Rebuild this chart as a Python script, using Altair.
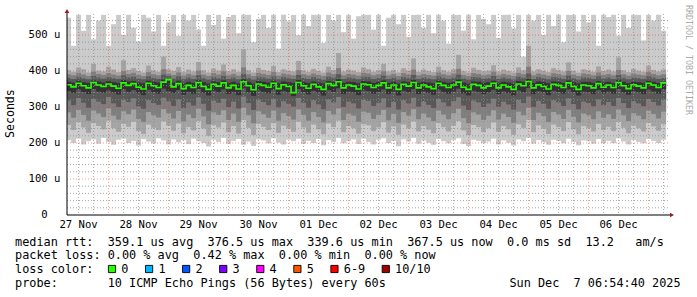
import altair as alt
import pandas as pd

# ---------------- data (values in microseconds, one value per 2 hours) ----------------
p10 = [
    548, 470, 556, 512, 556, 488, 540, 556, 470, 530, 556, 500,
    556, 520, 482, 556, 548, 510, 556, 470, 535, 556, 498, 556,
    540, 556, 515, 470, 556, 528, 556, 490, 550, 556, 505, 556,
    556, 480, 545, 556, 520, 556, 462, 556, 538, 556, 500, 556,
    525, 556, 556, 478, 556, 540, 556, 508, 556, 490, 552, 556,
    556, 515, 556, 470, 548, 556, 530, 556, 495, 556, 556, 520,
    556, 505, 556, 540, 476, 556, 556, 512, 556, 488, 556, 545,
    530, 556, 492, 556, 556, 518, 556, 440, 556, 540, 556, 500,
    556, 525, 556, 480, 556, 556, 510, 556, 535, 556, 470, 556,
    550, 556, 498, 556, 520, 556, 556, 485, 556, 540, 556, 512,
]
p9 = [
    402, 398, 410, 405, 396, 420, 401, 399, 412, 404, 397, 430,
    403, 408, 400, 396, 415, 402, 398, 440, 405, 400, 411, 397,
    404, 399, 425, 402, 396, 407, 401, 418, 399, 405, 398, 460,
    402, 396, 409, 403, 400, 414, 397, 405, 401, 399, 428, 402,
    398, 406, 400, 396, 412, 403, 450, 399, 404, 401, 397, 410,
    405, 398, 402, 420, 399, 403, 396, 408, 401, 435, 398, 404,
    400, 397, 412, 402, 398, 405, 445, 400, 396, 409, 403, 399,
    401, 416, 398, 404, 400, 396, 410, 402, 470, 399, 405, 401,
    397, 408, 403, 399, 424, 401, 396, 405, 402, 398, 413, 400,
    404, 399, 438, 402, 397, 406, 401, 398, 415, 403, 399, 404,
]
p8 = [
    391, 388, 395, 390, 386, 398, 392, 389, 394, 390, 387, 400,
    392, 395, 389, 386, 397, 391, 388, 405, 393, 389, 396, 387,
    392, 388, 401, 390, 386, 394, 390, 399, 388, 392, 387, 410,
    391, 386, 395, 392, 389, 397, 387, 393, 390, 388, 402, 391,
    388, 393, 389, 386, 396, 392, 408, 388, 392, 390, 387, 395,
    393, 388, 391, 399, 388, 392, 386, 394, 390, 404, 388, 392,
    389, 387, 396, 391, 388, 393, 406, 389, 386, 394, 392, 388,
    390, 398, 388, 392, 389, 386, 395, 391, 412, 388, 393, 390,
    387, 394, 392, 388, 400, 390, 386, 393, 391, 388, 396, 389,
    392, 388, 403, 391, 387, 393, 390, 388, 397, 392, 388, 391,
]
p7 = [
    381, 378, 384, 380, 377, 386, 382, 379, 383, 380, 378, 388,
    382, 384, 379, 377, 385, 381, 378, 390, 386, 379, 385, 377,
    382, 378, 388, 380, 376, 383, 380, 386, 378, 382, 377, 392,
    381, 376, 384, 382, 379, 385, 377, 383, 380, 378, 389, 381,
    378, 383, 379, 376, 384, 382, 391, 378, 382, 380, 377, 384,
    383, 378, 381, 387, 378, 382, 376, 383, 380, 389, 378, 382,
    379, 377, 385, 381, 378, 382, 390, 379, 376, 383, 382, 378,
    380, 386, 378, 382, 379, 376, 384, 381, 393, 378, 383, 380,
    377, 383, 382, 378, 387, 380, 376, 382, 381, 378, 385, 379,
    382, 378, 389, 381, 377, 382, 380, 378, 385, 382, 378, 381,
]
p6 = [
    370, 368, 373, 369, 367, 374, 371, 368, 372, 369, 367, 375,
    371, 372, 368, 366, 373, 370, 368, 376, 378, 368, 373, 366,
    370, 367, 375, 369, 365, 371, 369, 374, 367, 370, 366, 377,
    370, 365, 372, 370, 368, 373, 366, 371, 369, 367, 375, 370,
    367, 371, 368, 365, 372, 370, 377, 367, 370, 369, 366, 372,
    371, 367, 370, 374, 367, 370, 365, 371, 369, 375, 367, 370,
    368, 366, 373, 370, 367, 370, 376, 368, 365, 371, 370, 367,
    369, 373, 367, 370, 368, 365, 372, 370, 378, 367, 371, 369,
    366, 371, 370, 367, 374, 369, 365, 370, 370, 367, 372, 368,
    370, 367, 375, 370, 366, 370, 369, 367, 373, 370, 367, 370,
]
median = [
    362, 356, 366, 359, 353, 368, 361, 357, 364, 358, 352, 367,
    360, 365, 355, 350, 366, 359, 354, 369, 376, 356, 365, 351,
    360, 354, 368, 357, 349, 363, 358, 367, 353, 360, 350, 370,
    359, 348, 364, 360, 355, 366, 351, 362, 357, 340, 368, 359,
    352, 363, 356, 349, 365, 360, 370, 353, 361, 358, 350, 364,
    362, 354, 360, 367, 353, 361, 349, 363, 358, 368, 353, 361,
    356, 351, 366, 360, 354, 361, 369, 355, 349, 363, 360, 353,
    358, 366, 353, 361, 356, 349, 364, 359, 371, 353, 362, 357,
    350, 363, 360, 354, 367, 357, 349, 361, 359, 353, 365, 355,
    361, 354, 368, 359, 351, 362, 358, 353, 366, 361, 354, 367,
]
p5 = [
    344, 339, 348, 342, 336, 350, 343, 340, 346, 341, 335, 349,
    342, 347, 338, 333, 348, 341, 337, 351, 344, 339, 347, 334,
    342, 337, 350, 340, 332, 345, 341, 349, 336, 342, 333, 352,
    341, 331, 346, 342, 338, 348, 334, 344, 340, 330, 350, 341,
    335, 345, 339, 332, 347, 342, 352, 336, 343, 341, 333, 346,
    344, 337, 342, 349, 336, 343, 332, 345, 341, 350, 336, 343,
    339, 334, 348, 342, 337, 343, 351, 338, 332, 345, 342, 336,
    341, 348, 336, 343, 339, 332, 346, 341, 353, 336, 344, 340,
    333, 345, 342, 337, 349, 340, 332, 343, 341, 336, 347, 338,
    343, 337, 350, 341, 334, 344, 341, 336, 348, 343, 337, 349,
]
p4 = [
    318, 305, 325, 312, 298, 322, 315, 308, 328, 310, 300, 320,
    314, 324, 302, 295, 319, 311, 306, 326, 316, 303, 321, 297,
    313, 304, 327, 309, 290, 318, 312, 323, 300, 315, 296, 329,
    311, 292, 320, 314, 305, 322, 299, 316, 309, 301, 325, 312,
    298, 319, 307, 294, 321, 313, 328, 300, 315, 310, 296, 320,
    317, 303, 312, 324, 299, 314, 293, 319, 310, 326, 301, 315,
    306, 297, 322, 313, 302, 316, 327, 304, 292, 318, 313, 300,
    310, 323, 301, 315, 307, 293, 320, 311, 329, 300, 317, 309,
    295, 319, 313, 303, 324, 308, 294, 315, 311, 302, 321, 305,
    314, 303, 325, 311, 297, 316, 310, 302, 322, 314, 304, 320,
]
p3 = [
    285, 270, 292, 278, 262, 290, 282, 272, 296, 276, 265, 288,
    280, 293, 267, 258, 286, 277, 271, 294, 283, 268, 289, 260,
    279, 269, 295, 274, 252, 285, 278, 291, 264, 282, 259, 298,
    277, 255, 288, 280, 270, 290, 262, 283, 275, 265, 293, 278,
    262, 286, 272, 257, 289, 279, 296, 264, 282, 276, 259, 287,
    284, 267, 278, 292, 263, 281, 256, 286, 276, 294, 266, 282,
    271, 261, 290, 279, 266, 283, 295, 269, 255, 285, 279, 264,
    276, 291, 265, 282, 272, 256, 287, 277, 298, 264, 284, 275,
    258, 286, 279, 267, 292, 273, 257, 282, 277, 266, 288, 270,
    280, 267, 293, 277, 261, 283, 276, 266, 290, 281, 268, 287,
]
p2 = [
    250, 236, 258, 243, 228, 255, 247, 238, 262, 241, 231, 253,
    245, 259, 233, 225, 251, 242, 236, 260, 248, 234, 254, 227,
    244, 235, 261, 240, 220, 250, 243, 257, 230, 247, 226, 264,
    242, 222, 253, 245, 236, 255, 228, 248, 240, 231, 259, 243,
    228, 251, 238, 224, 254, 244, 262, 230, 247, 241, 226, 252,
    249, 233, 243, 258, 229, 246, 223, 251, 241, 260, 232, 247,
    237, 227, 255, 244, 232, 248, 261, 235, 222, 250, 244, 230,
    241, 257, 231, 247, 238, 223, 252, 242, 264, 230, 249, 240,
    225, 251, 244, 233, 258, 238, 224, 247, 242, 232, 253, 236,
    245, 233, 259, 242, 227, 248, 241, 232, 256, 246, 234, 252,
]
p1 = [
    208, 200, 212, 196, 205, 210, 198, 214, 203, 195, 209, 212,
    200, 206, 193, 211, 204, 199, 213, 207, 196, 210, 202, 208,
    197, 212, 205, 200, 190, 209, 203, 214, 198, 206, 211, 195,
    204, 192, 210, 207, 199, 213, 201, 196, 209, 205, 212, 198,
    206, 200, 211, 194, 208, 203, 214, 199, 205, 210, 197, 212,
    203, 196, 209, 213, 200, 206, 191, 210, 204, 214, 198, 207,
    201, 195, 211, 205, 199, 208, 213, 197, 192, 209, 206, 200,
    204, 212, 196, 207, 201, 193, 210, 205, 214, 198, 208, 202,
    195, 209, 206, 199, 212, 203, 194, 207, 205, 198, 211, 200,
    206, 199, 213, 204, 196, 208, 203, 199, 211, 206, 200, 209,
]

smoke_colors = ["#cacaca", "#a4a4a4", "#7e7e7e", "#585858", "#323232"]
median_color = "#26ff00"

y_tick_values = [0, 100, 200, 300, 400, 500]
y_tick_labels = ["0", "100 u", "200 u", "300 u", "400 u", "500 u"]
day_dates = ["2025-11-27", "2025-11-28", "2025-11-29", "2025-11-30", "2025-12-01",
             "2025-12-02", "2025-12-03", "2025-12-04", "2025-12-05", "2025-12-06"]
day_labels = ["27 Nov", "28 Nov", "29 Nov", "30 Nov", "01 Dec",
              "02 Dec", "03 Dec", "04 Dec", "05 Dec", "06 Dec"]

loss_labels = ["0", "1", "2", "3", "4", "5", "6-9", "10/10"]
loss_colors = ["#26ff00", "#00b8ff", "#0059ff", "#7e00ff", "#ff00ff", "#ff5500", "#ff0000", "#a10000"]

line_rtt = "median rtt:  359.1 us avg  376.5 us max  339.6 us min  367.5 us now  0.0 ms sd  13.2   am/s"
line_loss = "packet loss: 0.00 % avg  0.42 % max  0.00 % min  0.00 % now"
line_color = "loss color:"
line_probe = "probe:       10 ICMP Echo Pings (56 Bytes) every 60s"
line_date = "Sun Dec  7 06:54:40 2025"
y_title = "Seconds"
watermark = "RRDTOOL / TOBI OETIKER"

# ---------------- layout ----------------
FONT = "DejaVu Sans Mono"
W, H = 602, 201
PADL, PADT = 67, 14
CW = 7.13  # monospace character advance
NBSP = "\u00a0"


def keep_spaces(s):
    return s.replace(" ", NBSP)


n = min(len(a) for a in [p1, p2, p3, p4, p5, median, p6, p7, p8, p9, p10])
times = pd.date_range("2025-11-27 07:00", periods=n + 1, freq="2h")
t0 = list(times[:-1].strftime("%Y-%m-%dT%H:%M:%S"))
t1 = list(times[1:].strftime("%Y-%m-%dT%H:%M:%S"))

xscale = alt.Scale(domain=[alt.DateTime(year=2025, month=11, date=27, hours=7, minutes=22),
                           alt.DateTime(year=2025, month=12, date=7, hours=8, minutes=10)], nice=False)
yscale = alt.Scale(domain=[0, 558.33], nice=False, zero=False)

pairs = [(p1, p10), (p2, p9), (p3, p8), (p4, p7), (p5, p6)]
layers = []
for (lo, hi), col in zip(pairs, smoke_colors):
    df = pd.DataFrame({"t0": t0[:n], "t1": t1[:n], "lo": lo[:n], "hi": hi[:n]})
    layers.append(
        alt.Chart(df).mark_rect(color=col, clip=True, strokeWidth=0).encode(
            x=alt.X("t0:T", scale=xscale, axis=None),
            x2="t1:T",
            y=alt.Y("lo:Q", scale=yscale, axis=None),
            y2="hi:Q",
        )
    )

# grid
minor_t = [t.strftime("%Y-%m-%dT%H:%M:%S") for t in pd.date_range("2025-11-27 12:00", "2025-12-07 06:00", freq="6h") if t.hour != 0]
major_t = [t.strftime("%Y-%m-%dT%H:%M:%S") for t in pd.date_range("2025-11-28 00:00", "2025-12-07 00:00", freq="24h")]
minor_v = [v for v in range(20, 541, 20) if v % 100]
major_v = [100, 200, 300, 400, 500]


def vgrid(vals, color, opacity):
    return alt.Chart(pd.DataFrame({"g": vals})).mark_rule(color=color, opacity=opacity, strokeDash=[1, 2], strokeWidth=1).encode(
        x=alt.X("g:T", scale=xscale, axis=None), y=alt.value(0), y2=alt.value(H))


def hgrid(vals, color, opacity):
    return alt.Chart(pd.DataFrame({"g": vals})).mark_rule(color=color, opacity=opacity, strokeDash=[1, 2], strokeWidth=1).encode(
        y=alt.Y("g:Q", scale=yscale, axis=None), x=alt.value(0), x2=alt.value(W))


layers += [vgrid(minor_t, "#909090", 0.8), hgrid(minor_v, "#909090", 0.8),
           vgrid(major_t, "#ff3030", 0.5), hgrid(major_v, "#ff3030", 0.5)]

# median line (step)
med_df = pd.DataFrame({"t": t0[:n] + [t1[n - 1]], "m": median[:n] + [median[n - 1]]})
layers.append(
    alt.Chart(med_df).mark_line(color=median_color, strokeWidth=1.6, interpolate="step-after", clip=True).encode(
        x=alt.X("t:T", scale=xscale, axis=None), y=alt.Y("m:Q", scale=yscale, axis=None))
)

one = alt.Data(values=[{"a": 1}])

# axis lines and arrows
layers.append(alt.Chart(one).mark_rule(color="#000000", strokeWidth=1).encode(
    x=alt.value(0), y=alt.value(-3), y2=alt.value(H)))
layers.append(alt.Chart(one).mark_rule(color="#000000", strokeWidth=1).encode(
    x=alt.value(0), x2=alt.value(W + 2), y=alt.value(H)))
layers.append(alt.Chart(one).mark_point(shape="triangle-up", filled=True, size=22, color="#a01818", opacity=1).encode(
    x=alt.value(0), y=alt.value(-3)))
layers.append(alt.Chart(one).mark_point(shape="triangle-right", filled=True, size=22, color="#a01818", opacity=1).encode(
    x=alt.value(W + 3), y=alt.value(H)))

# axis tick labels
xlab = pd.DataFrame({"t": [d + "T12:00:00" for d in day_dates], "lab": day_labels})
layers.append(alt.Chart(xlab).mark_text(align="center", baseline="middle", font=FONT, fontSize=10.6, color="#000000").encode(
    x=alt.X("t:T", scale=xscale, axis=None), y=alt.value(H + 9.7), text="lab:N"))
ylab = pd.DataFrame({"v": y_tick_values, "lab": [keep_spaces(s) for s in y_tick_labels]})
layers.append(alt.Chart(ylab).mark_text(align="center", baseline="middle", font=FONT, fontSize=10.6, color="#000000").encode(
    y=alt.Y("v:Q", scale=yscale, axis=None), x=alt.value(44.5 - PADL), text="lab:N"))


def txt(s, x, y, align="left", size=11.85, color="#000000", angle=0):
    return alt.Chart(one).mark_text(align=align, baseline="middle", font=FONT, fontSize=size,
                                    color=color, angle=angle).encode(
        x=alt.value(x), y=alt.value(y), text=alt.value(keep_spaces(s)))


TX = 15.0 - PADL
layers += [
    txt(line_rtt, TX, 241.5 - PADT),
    txt(line_loss, TX, 255.3 - PADT),
    txt(line_color, TX, 269.0 - PADT),
    txt(line_probe, TX, 282.8 - PADT),
    txt(line_date, 595.0 - PADL, 282.8 - PADT, align="center"),
    txt(y_title, 11 - PADL, 113.6 - PADT, align="center", size=11.6, angle=270),
    txt(watermark, 688 - PADL, 60 - PADT, align="center", size=8.3, color="#aaaaaa", angle=90),
]

# loss colour legend
centers = []
c = 112.0
for lab in loss_labels:
    centers.append(c)
    c += (len(lab) + 4.2) * CW
leg = pd.DataFrame({"lab": loss_labels, "col": loss_colors,
                    "bx": [v - PADL for v in centers], "tx": [v + 9.3 - PADL for v in centers]})
layers.append(alt.Chart(leg).mark_square(size=52, stroke="#000000", strokeWidth=0.9, opacity=1).encode(
    x=alt.X("bx:Q", scale=None), y=alt.value(269.0 - PADT),
    fill=alt.Color("col:N", scale=None)))
layers.append(alt.Chart(leg).mark_text(align="left", baseline="middle", font=FONT, fontSize=11.85, color="#000000").encode(
    x=alt.X("tx:Q", scale=None), y=alt.value(269.0 - PADT), text="lab:N"))

chart = alt.layer(*layers).properties(
    width=W, height=H,
    autosize=alt.AutoSizeParams(type="none"),
    padding={"left": PADL, "top": PADT, "right": 697 - PADL - W, "bottom": 297 - PADT - H},
    background="#ffffff",
).configure_view(stroke=None)

chart.save("out.html", embed_options={"renderer": "svg", "actions": False})
